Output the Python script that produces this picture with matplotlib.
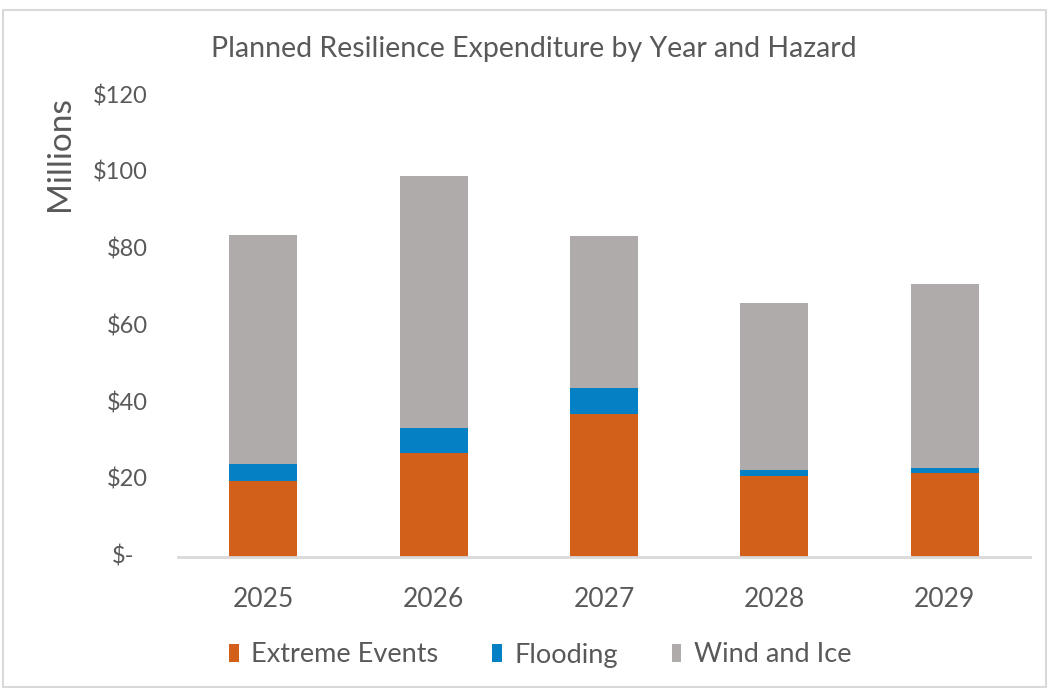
import matplotlib.pyplot as plt
import numpy as np
from matplotlib.patches import Rectangle
from matplotlib.transforms import blended_transform_factory

years = ['2025', '2026', '2027', '2028', '2029']
extreme_events = [19.7, 27.0, 37.1, 21.1, 21.7]
flooding = [4.4, 6.4, 6.8, 1.4, 1.3]
wind_and_ice = [59.6, 65.8, 39.6, 43.5, 48.0]
yticks = [0, 20, 40, 60, 80, 100, 120]

plt.rcParams['font.family'] = ['Lato', 'DejaVu Sans']
text_color = '#595959'

fig = plt.figure(figsize=(10.49, 6.9), dpi=100)
ax = fig.add_axes([178 / 1049, 1 - 556.7 / 690, (1030 - 178) / 1049, (556.7 - 96) / 690])

x = np.arange(len(years))
width = 0.40
ext = np.array(extreme_events)
fl = np.array(flooding)
wi = np.array(wind_and_ice)
ax.bar(x, ext, width, color='#D2601A', label='Extreme Events', zorder=2)
ax.bar(x, fl, width, bottom=ext, color='#0580C4', label='Flooding', zorder=2)
ax.bar(x, wi, width, bottom=ext + fl, color='#AFABAB', label='Wind and Ice', zorder=2)

ax.set_xlim(-0.5, len(years) - 0.5)
ax.set_ylim(0, 120)
ax.set_xticks(x)
ax.set_xticklabels(years, fontsize=19, color=text_color)
ax.set_yticks(yticks)
ax.set_yticklabels([])
ax.tick_params(axis='both', length=0)
ax.tick_params(axis='x', pad=22)

for side in ['top', 'right', 'left']:
    ax.spines[side].set_visible(False)
ax.spines['bottom'].set_color('#D9D9D9')
ax.spines['bottom'].set_linewidth(2)

# accounting-style tick labels, right aligned
tr = blended_transform_factory(fig.transFigure, ax.transData)
for v in yticks:
    if v == 0:
        ax.text(134 / 1049, v, '$-', transform=tr, ha='right', va='center',
                fontsize=17, color=text_color, clip_on=False)
    else:
        ax.text(148 / 1049, v, '$' + str(v), transform=tr, ha='right', va='center',
                fontsize=17, color=text_color, clip_on=False)

fig.text(60 / 1049, 1 - 154 / 690, 'Millions', rotation=90, ha='center', va='center',
         fontsize=24, color=text_color)
fig.text(534 / 1049, 1 - 49 / 690, 'Planned Resilience Expenditure by Year and Hazard',
         ha='center', va='center', fontsize=20.5, color=text_color)

fig.legend(loc='center', bbox_to_anchor=(540 / 1049, 1 - 655 / 690), ncol=3,
           frameon=False, fontsize=19.5, handlelength=0.36, handleheight=0.6,
           handletextpad=0.45, columnspacing=2.0, labelcolor=text_color)

fig.patches.append(Rectangle((3 / 1049, 3 / 690), 1043 / 1049, 677 / 690,
                             transform=fig.transFigure, fill=False,
                             edgecolor='#D9D9D9', linewidth=1.5))

plt.savefig('out.png', dpi=100)
